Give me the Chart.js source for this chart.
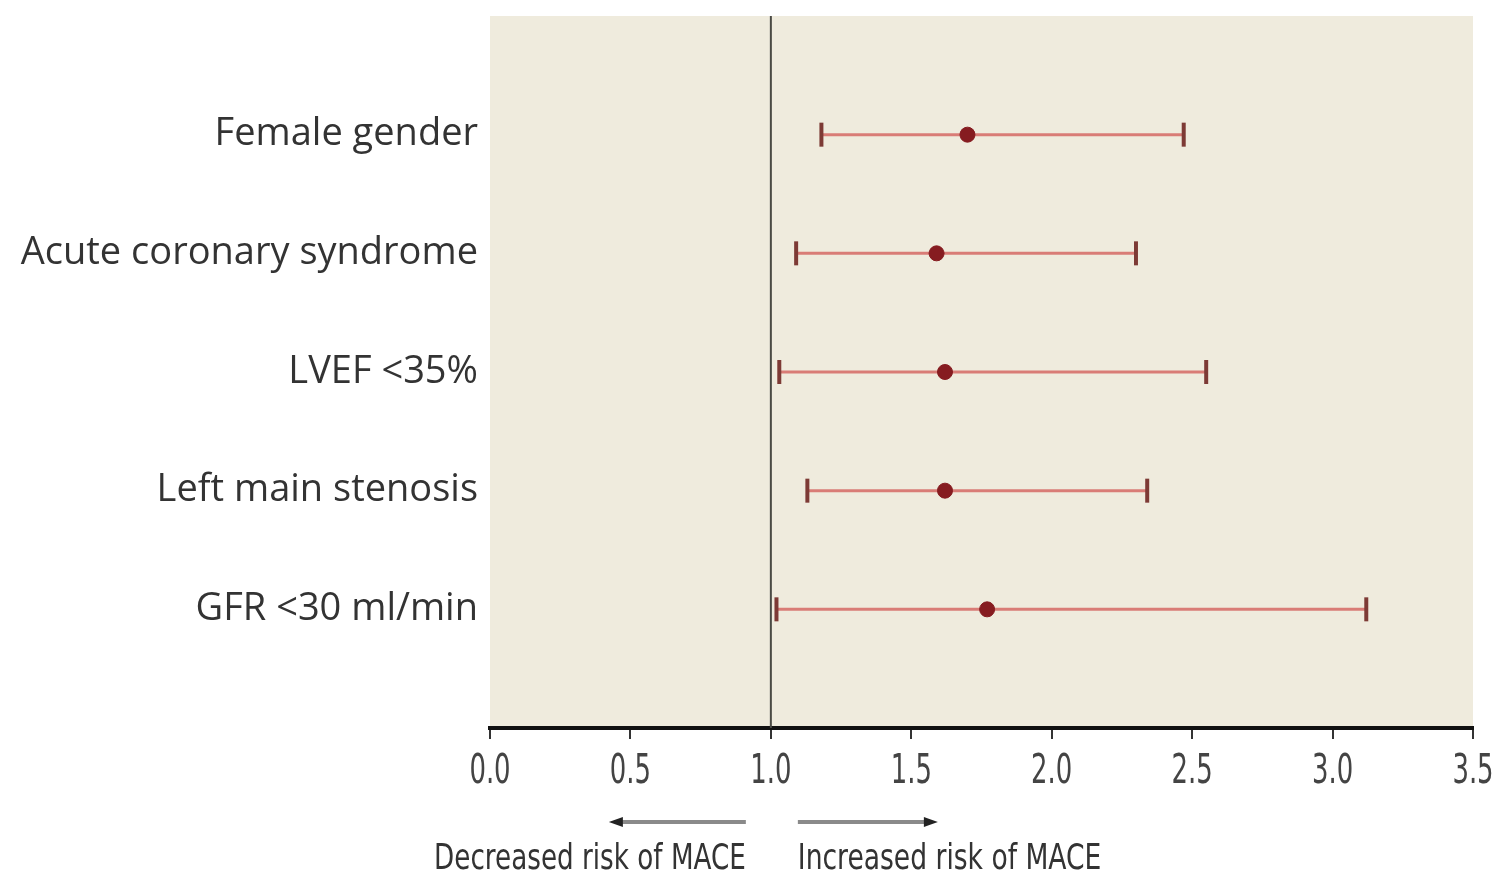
<!DOCTYPE html>
<html>
<head>
<meta charset="utf-8">
<script src="https://cdn.jsdelivr.net/npm/chart.js@4"></script>
<style>
  html, body { margin: 0; padding: 0; background: #fff; }
  #wrap { width: 1501px; height: 880px; }
</style>
</head>
<body>
<div id="wrap"><canvas id="forest" width="1501" height="880"></canvas></div>
<script>
// hazard ratios
const factors = ['Female gender', 'Acute coronary syndrome', 'LVEF <35%', 'Left main stenosis', 'GFR <30 ml/min'];
const estimate = [1.70, 1.59, 1.62, 1.62, 1.77];
const lower = [1.18, 1.09, 1.03, 1.13, 1.02];
const upper = [2.47, 2.30, 2.55, 2.34, 3.12];
const xTicks = [0.0, 0.5, 1.0, 1.5, 2.0, 2.5, 3.0, 3.5];

const yLabels = [''].concat(factors, ['']);
const condensed = "'DejaVu Sans Condensed', 'DejaVu Sans', sans-serif";

// one line dataset per row: CI line with vertical caps
const ciSets = factors.map((f, i) => ({
    type: 'line',
    data: [{ x: lower[i], y: f }, { x: upper[i], y: f }],
    borderColor: '#d97c76',
    borderWidth: 3,
    pointStyle: 'line',
    rotation: 90,
    pointRadius: 12,
    pointBorderWidth: 4,
    pointBorderColor: '#7d3a35',
    order: 2
}));

const pointSet = {
    type: 'scatter',
    data: factors.map((f, i) => ({ x: estimate[i], y: f })),
    backgroundColor: '#861c20',
    borderColor: '#861c20',
    pointRadius: 7.5,
    order: 1
};

// squeezed text, the original uses a condensed face
function narrowText(ctx, txt, x, y, sx) {
    ctx.save();
    ctx.translate(x, y);
    ctx.scale(sx, 1);
    ctx.fillText(txt, 0, 0);
    ctx.restore();
}

const backdrop = {
    id: 'backdrop',
    beforeDraw(chart) {
        const a = chart.chartArea, ctx = chart.ctx;
        ctx.save();
        ctx.fillStyle = '#efebdd';
        ctx.fillRect(a.left, a.top, a.right - a.left, a.bottom - a.top);
        ctx.restore();
    },
    beforeDatasetsDraw(chart) {
        const a = chart.chartArea, ctx = chart.ctx;
        const x1 = chart.scales.x.getPixelForValue(1);
        ctx.save();
        ctx.strokeStyle = '#4a4a44';
        ctx.lineWidth = 2;
        ctx.beginPath();
        ctx.moveTo(x1, a.top);
        ctx.lineTo(x1, a.bottom);
        ctx.stroke();
        ctx.restore();
    },
    afterDraw(chart) {
        const ctx = chart.ctx;
        const xs = chart.scales.x;
        const x1 = xs.getPixelForValue(1);

        // x tick labels, condensed
        ctx.save();
        ctx.font = '40px ' + condensed;
        ctx.fillStyle = '#444';
        ctx.textAlign = 'center';
        ctx.textBaseline = 'middle';
        xs.ticks.forEach((t, i) => {
            narrowText(ctx, t.value.toFixed(1), xs.getPixelForTick(i), 773, 0.72);
        });
        ctx.restore();

        const ay = 822, ty = 860;
        ctx.save();
        ctx.strokeStyle = '#8a8a8a';
        ctx.fillStyle = '#222';
        ctx.lineWidth = 4;
        // left arrow
        ctx.beginPath();
        ctx.moveTo(x1 - 25, ay);
        ctx.lineTo(x1 - 152, ay);
        ctx.stroke();
        ctx.beginPath();
        ctx.moveTo(x1 - 162, ay);
        ctx.lineTo(x1 - 148, ay - 5);
        ctx.lineTo(x1 - 148, ay + 5);
        ctx.closePath();
        ctx.fill();
        // right arrow
        ctx.beginPath();
        ctx.moveTo(x1 + 27, ay);
        ctx.lineTo(x1 + 157, ay);
        ctx.stroke();
        ctx.beginPath();
        ctx.moveTo(x1 + 167, ay);
        ctx.lineTo(x1 + 153, ay - 5);
        ctx.lineTo(x1 + 153, ay + 5);
        ctx.closePath();
        ctx.fill();

        ctx.font = '36px ' + condensed;
        ctx.fillStyle = '#333';
        ctx.textBaseline = 'middle';
        ctx.textAlign = 'right';
        narrowText(ctx, 'Decreased risk of MACE', x1 - 25, ty, 0.81);
        ctx.textAlign = 'left';
        narrowText(ctx, 'Increased risk of MACE', x1 + 27, ty, 0.82);
        ctx.restore();
    }
};

new Chart(document.getElementById('forest'), {
    data: { datasets: ciSets.concat([pointSet]) },
    options: {
        responsive: false,
        animation: false,
        layout: { padding: { top: 9, right: 28, left: 0, bottom: 0 } },
        plugins: { legend: { display: false }, tooltip: { enabled: false } },
        scales: {
            x: {
                type: 'linear',
                min: 0,
                max: 3.5,
                afterBuildTicks: axis => { axis.ticks = xTicks.map(v => ({ value: v })); },
                afterFit: axis => {
                    axis.height = 152;
                    axis.paddingLeft = 0;
                    axis.paddingRight = 0;
                },
                ticks: { display: false },
                grid: { drawOnChartArea: false, drawTicks: true, tickLength: 11, color: '#333', lineWidth: 2 },
                border: { color: '#111', width: 4 }
            },
            y: {
                type: 'category',
                labels: yLabels,
                offset: false,
                afterFit: axis => {
                    axis.width = 490;
                    axis.paddingTop = 0;
                    axis.paddingBottom = 0;
                },
                ticks: {
                    color: '#333',
                    font: { family: "'Open Sans', sans-serif", size: 38, weight: '500' },
                    padding: 12,
                    autoSkip: false
                },
                grid: { display: false, drawTicks: false },
                border: { display: false }
            }
        }
    },
    plugins: [backdrop]
});
</script>
</body>
</html>
